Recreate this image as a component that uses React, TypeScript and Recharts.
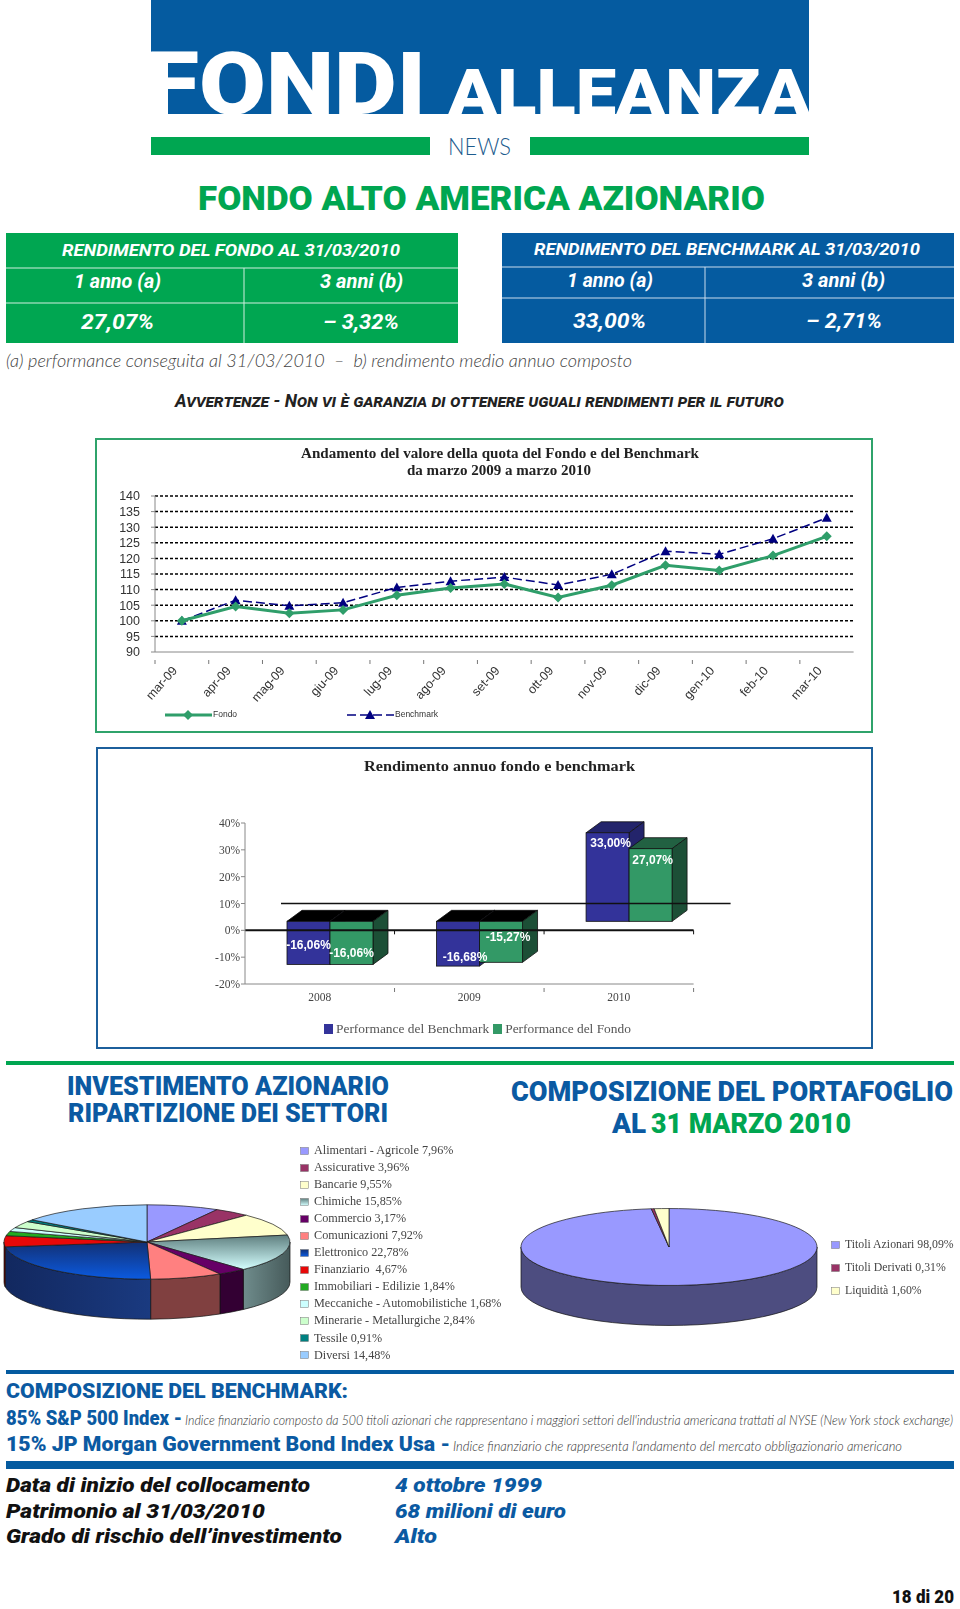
import { Bar, BarChart, CartesianGrid, LabelList, Legend, Line, LineChart, Pie, PieChart, ReferenceLine, XAxis, YAxis } from "recharts";

// --- line chart data
const months = ["mar-09", "apr-09", "mag-09", "giu-09", "lug-09", "ago-09", "set-09", "ott-09", "nov-09", "dic-09", "gen-10", "feb-10", "mar-10"];
const fondoQuota = [100, 104.6, 102.4, 103.5, 108.2, 110.5, 111.8, 107.5, 111.4, 117.8, 116.1, 120.9, 127.07];
const benchmarkQuota = [100, 106.6, 104.8, 105.8, 110.7, 112.7, 114, 111.5, 114.9, 122.3, 121.3, 126.3, 133];
const quotaTicks = [90, 95, 100, 105, 110, 115, 120, 125, 130, 135, 140];
const quotaGrid = [95, 100, 105, 110, 115, 120, 125, 130, 135, 140];

// --- bar chart data
const years = ["2008", "2009", "2010"];
const benchmarkYear = [-16.06, -16.68, 33];
const fondoYear = [-16.06, -15.27, 27.07];
const yearTicks = [-20, -10, 0, 10, 20, 30, 40];

// --- pie data
const sectorNames = ["Alimentari - Agricole", "Assicurative", "Bancarie", "Chimiche", "Commercio", "Comunicazioni", "Elettronico", "Finanziario ", "Immobiliari - Edilizie", "Meccaniche - Automobilistiche", "Minerarie - Metallurgiche", "Tessile", "Diversi"];
const sectorValues = [7.96, 3.96, 9.55, 15.85, 3.17, 7.92, 22.78, 4.67, 1.84, 1.68, 2.84, 0.91, 14.48];
const sectorFills = ["#9999ff", "#993366", "#ffffcc", "url(#chimicheTop)", "#660066", "#ff8080", "url(#elettronicoTop)", "#e80808", "#22aa22", "#ccffff", "#ccffcc", "#008080", "#99ccff"];
const sectorSides = ["#4d4d80", "#4d1a33", "#808066", "url(#chimicheSide)", "#330033", "#804040", "url(#elettronicoSide)", "#740404", "#115511", "#668080", "#668066", "#004040", "#4d6680"];

const assetNames = ["Titoli Azionari", "Titoli Derivati", "Liquidità"];
const assetValues = [98.09, 0.31, 1.6];
const assetFills = ["#9999ff", "#993366", "#ffffcc"];
const assetSides = ["#4d4d80", "#4d1a33", "#808066"];

const comma = (v: number) => v.toFixed(2).replace(".", ",");

const quotaRows = months.map((m, i) => ({ month: m, Fondo: fondoQuota[i], Benchmark: benchmarkQuota[i] }));
const yearRows = years.map((y, i) => ({ year: y, benchmark: benchmarkYear[i], fondo: fondoYear[i] }));
const sectorRows = sectorNames.map((n, i) => ({ name: `${n} ${comma(sectorValues[i])}%`, value: sectorValues[i], fill: sectorFills[i], side: sectorSides[i] }));
const assetRows = assetNames.map((n, i) => ({ name: `${n} ${comma(assetValues[i])}%`, value: assetValues[i], fill: assetFills[i], side: assetSides[i] }));

const BLUE = "#0b5aa2";
const GREEN = "#00a651";
const SERIF = "'Liberation Serif', serif";
const SANS = "'Liberation Sans', sans-serif";
const HEAD = "Roboto, sans-serif";
const LIGHT = "Lato, sans-serif";

// page text: every string is fitted to the width it has in the reference
type TextProps = { x: number; end: number; y: number; size: number; fill?: string; weight?: number; italic?: boolean; font?: string; caps?: boolean; children: any };
function Fit({ x, end, y, size, fill = "#fff", weight = 700, italic, font = HEAD, caps, children }: TextProps) {
  return (
    <text x={x} y={y} textLength={end - x} lengthAdjust="spacingAndGlyphs" fontSize={size} fill={fill} fontWeight={weight} fontStyle={italic ? "italic" : "normal"} fontFamily={font} style={{ whiteSpace: "pre", fontVariant: caps ? "small-caps" : "normal" }}>
      {children}
    </text>
  );
}

function PageArt() {
  return (
    <svg width={960} height={1609} style={{ position: "absolute", left: 0, top: 0 }}>
      <defs>
        <linearGradient id="chimicheTop" x1="0" y1="0" x2="0" y2="1">
          <stop offset="0" stopColor="#5f7f7f" />
          <stop offset="1" stopColor="#d4ffff" />
        </linearGradient>
        <linearGradient id="chimicheSide" x1="0" y1="0" x2="1" y2="0">
          <stop offset="0" stopColor="#6f8c8c" />
          <stop offset="1" stopColor="#465a5a" />
        </linearGradient>
        <linearGradient id="elettronicoTop" x1="0" y1="0" x2="0" y2="1">
          <stop offset="0" stopColor="#123074" />
          <stop offset="1" stopColor="#0b5ae0" />
        </linearGradient>
        <linearGradient id="elettronicoSide" x1="0" y1="0" x2="1" y2="0">
          <stop offset="0" stopColor="#12285f" />
          <stop offset="1" stopColor="#1a3a80" />
        </linearGradient>
      </defs>
      {/* masthead */}
      <rect x={151} y={0} width={658} height={114} fill="#055ba0" />
      <rect x={151} y={52} width={17} height={62} fill="#fff" />
      <Fit x={146} end={426} y={114} size={88} weight={900}>FONDI</Fit>
      <Fit x={448} end={810} y={115} size={64} weight={900}>ALLEANZA</Fit>
      <rect x={151} y={137} width={279} height={18} fill={GREEN} />
      <rect x={530} y={137} width={279} height={18} fill={GREEN} />
      <Fit x={448} end={511} y={155} size={24} fill="#1d5c8e" weight={300} font={LIGHT}>NEWS</Fit>
      <Fit x={198} end={765} y={210} size={33} fill={GREEN} weight={900}>FONDO ALTO AMERICA AZIONARIO</Fit>

      {/* result tables */}
      <rect x={6} y={233} width={452} height={110} fill={GREEN} />
      <rect x={6} y={267.5} width={452} height={1} fill="#cfeee0" />
      <rect x={6} y={302.5} width={452} height={1} fill="#cfeee0" />
      <rect x={243.5} y={268} width={1} height={75} fill="#cfeee0" />
      <Fit x={62} end={400} y={256} size={17} italic>RENDIMENTO DEL FONDO AL 31/03/2010</Fit>
      <Fit x={74} end={161} y={288} size={20} italic>1 anno (a)</Fit>
      <Fit x={320} end={403} y={288} size={20} italic>3 anni (b)</Fit>
      <Fit x={81} end={154} y={329} size={21} italic>27,07%</Fit>
      <Fit x={323} end={399} y={329} size={21} italic>– 3,32%</Fit>

      <rect x={502} y={233} width={452} height={110} fill="#055ba0" />
      <rect x={502} y={266.5} width={452} height={1} fill="#c9dcec" />
      <rect x={502} y={297.5} width={452} height={1} fill="#c9dcec" />
      <rect x={704.5} y={267} width={1} height={76} fill="#c9dcec" />
      <Fit x={534} end={920} y={255} size={17} italic>RENDIMENTO DEL BENCHMARK AL 31/03/2010</Fit>
      <Fit x={567} end={653} y={287} size={20} italic>1 anno (a)</Fit>
      <Fit x={802} end={885} y={287} size={20} italic>3 anni (b)</Fit>
      <Fit x={573} end={646} y={328} size={21} italic>33,00%</Fit>
      <Fit x={806} end={882} y={328} size={21} italic>– 2,71%</Fit>

      <Fit x={6} end={632} y={367} size={18} fill="#444" weight={300} italic font={LIGHT}>{"(a) performance conseguita al 31/03/2010  –  b) rendimento medio annuo composto"}</Fit>
      <Fit x={175} end={784} y={407} size={18} fill="#222" italic caps>Avvertenze - Non vi è garanzia di ottenere uguali rendimenti per il futuro</Fit>

      {/* section heads */}
      <rect x={6} y={1061} width={948} height={4} fill={GREEN} />
      <Fit x={67} end={389} y={1095} size={26} fill={BLUE} weight={900}>INVESTIMENTO AZIONARIO</Fit>
      <Fit x={68} end={388} y={1122} size={26} fill={BLUE} weight={900}>RIPARTIZIONE DEI SETTORI</Fit>
      <Fit x={511} end={953} y={1101} size={28} fill={BLUE} weight={900}>COMPOSIZIONE DEL PORTAFOGLIO</Fit>
      <Fit x={612} end={646} y={1133} size={28} fill={BLUE} weight={900}>AL</Fit>
      <Fit x={651} end={851} y={1133} size={28} fill={GREEN} weight={900}>31 MARZO 2010</Fit>

      {/* benchmark notes */}
      <rect x={6} y={1370} width={948} height={4} fill="#055ba0" />
      <Fit x={6} end={348} y={1398} size={20} fill={BLUE} weight={900}>COMPOSIZIONE DEL BENCHMARK:</Fit>
      <Fit x={6} end={182} y={1425} size={20} fill={BLUE} weight={900}>85% S&amp;P 500 Index -</Fit>
      <Fit x={185} end={953} y={1425} size={14} fill="#333" weight={300} italic font={LIGHT}>Indice finanziario composto da 500 titoli azionari che rappresentano i maggiori settori dell'industria americana trattati al NYSE (New York stock exchange)</Fit>
      <Fit x={6} end={450} y={1451} size={20} fill={BLUE} weight={900}>15% JP Morgan Government Bond Index Usa -</Fit>
      <Fit x={453} end={902} y={1451} size={14} fill="#333" weight={300} italic font={LIGHT}>Indice finanziario che rappresenta l'andamento del mercato obbligazionario americano</Fit>
      <rect x={6} y={1461} width={948} height={8} fill="#055ba0" />

      <Fit x={6} end={310} y={1492} size={20} fill="#111" weight={900} italic>Data di inizio del collocamento</Fit>
      <Fit x={395} end={542} y={1492} size={20} fill={BLUE} weight={900} italic>4 ottobre 1999</Fit>
      <Fit x={6} end={265} y={1518} size={20} fill="#111" weight={900} italic>Patrimonio al 31/03/2010</Fit>
      <Fit x={395} end={566} y={1518} size={20} fill={BLUE} weight={900} italic>68 milioni di euro</Fit>
      <Fit x={6} end={342} y={1543} size={20} fill="#111" weight={900} italic>Grado di rischio dell’investimento</Fit>
      <Fit x={395} end={437} y={1543} size={20} fill={BLUE} weight={900} italic>Alto</Fit>
      <Fit x={892} end={954} y={1603} size={18} fill="#111" weight={900}>18 di 20</Fit>
    </svg>
  );
}

// --- line chart parts
const LINE_PLOT_W = 698.6;

function MonthTick({ x, y, payload }: any) {
  const edge = x - LINE_PLOT_W / months.length / 2;
  return (
    <g>
      <line x1={edge} x2={edge} y1={y} y2={y + 4} stroke="#777" />
      <text transform={`translate(${x - 4},${y + 11}) rotate(-48)`} textAnchor="end" fontFamily={SANS} fontSize={12.5} fill="#333">
        {payload.value}
      </text>
    </g>
  );
}

function Diamond({ cx, cy, fill }: any) {
  return <polygon points={`${cx},${cy - 5} ${cx + 5},${cy} ${cx},${cy + 5} ${cx - 5},${cy}`} fill={fill} />;
}

function Triangle({ cx, cy, fill }: any) {
  return <polygon points={`${cx},${cy - 5} ${cx + 5},${cy + 4} ${cx - 5},${cy + 4}`} fill={fill} />;
}

function QuotaLegend() {
  return (
    <div style={{ position: "relative", width: 300, height: 12, fontFamily: SANS, fontSize: 8.5, color: "#333" }}>
      <svg width={60} height={12} style={{ position: "absolute", left: 0, top: 0 }}>
        <line x1={0} x2={47} y1={6} y2={6} stroke="#2f9e6a" strokeWidth={3} />
        <Diamond cx={23} cy={6} fill="#2f9e6a" />
      </svg>
      <span style={{ position: "absolute", left: 48, top: 0 }}>Fondo</span>
      <svg width={60} height={12} style={{ position: "absolute", left: 182, top: 0 }}>
        <line x1={0} x2={47} y1={6} y2={6} stroke="#000080" strokeWidth={1.5} strokeDasharray="9 4" />
        <Triangle cx={23} cy={6} fill="#000080" />
      </svg>
      <span style={{ position: "absolute", left: 230, top: 0 }}>Benchmark</span>
    </div>
  );
}

// --- bar chart parts
const BAR_DX = 10;
const BAR_DY = -9;
const DEPTH_X = 15;
const DEPTH_Y = 11;
const YEAR_PLOT_W = 448.6;

function Box3D({ x, y, width, height, value, fill, side, top }: any) {
  const v = Array.isArray(value) ? value[1] : value;
  const y0 = Math.min(y, y + height) + BAR_DY;
  const y1 = Math.max(y, y + height) + BAR_DY;
  const x0 = x + BAR_DX;
  const x1 = x0 + width;
  return (
    <g stroke="#111" strokeWidth={0.8}>
      <polygon points={`${x0},${y0} ${x0 + DEPTH_X},${y0 - DEPTH_Y} ${x1 + DEPTH_X},${y0 - DEPTH_Y} ${x1},${y0}`} fill={v < 0 ? "#000" : top} />
      <polygon points={`${x1},${y0} ${x1 + DEPTH_X},${y0 - DEPTH_Y} ${x1 + DEPTH_X},${y1 - DEPTH_Y} ${x1},${y1}`} fill={side} />
      <rect x={x0} y={y0} width={width} height={y1 - y0} fill={fill} />
    </g>
  );
}

const labelNudgeBenchmark = [[0, -20], [7, -9], [3, 10]];
const labelNudgeFondo = [[0, -12], [7, -26], [2, 11]];

function barLabel(nudge: number[][]) {
  return ({ x, y, width, height, value, index }: any) => {
    const tip = (value < 0 ? Math.max(y, y + height) : Math.min(y, y + height)) + BAR_DY;
    return (
      <text x={x + width / 2 + BAR_DX + nudge[index][0]} y={tip + nudge[index][1]} dy="0.35em" textAnchor="middle" fontFamily={SANS} fontSize={12} fontWeight={700} fill="#fff">
        {comma(value)}%
      </text>
    );
  };
}

function YearTick({ x, y, payload }: any) {
  const edge = x + YEAR_PLOT_W / years.length / 2;
  return (
    <g>
      <line x1={edge} x2={edge} y1={y} y2={y - 4} stroke="#777" />
      <text x={x} y={y + 17} dy={-8} textAnchor="middle" fontFamily={SERIF} fontSize={11.5} fill="#444">
        {payload.value}
      </text>
    </g>
  );
}

function ZeroLine({ x1, x2, y1 }: any) {
  const band = (x2 - x1) / years.length;
  return (
    <g stroke="#111">
      <line x1={x1} x2={x2} y1={y1} y2={y1} strokeWidth={2} />
      {[1, 2, 3].map((i) => (
        <line key={i} x1={x1 + band * i} x2={x1 + band * i} y1={y1} y2={y1 + 4} strokeWidth={1} />
      ))}
    </g>
  );
}

function WallLine({ x1, x2, y1 }: any) {
  return <line x1={x1 + 36} x2={x2 + 37} y1={y1} y2={y1} stroke="#111" strokeWidth={1.4} />;
}

function YearLegend() {
  const item = (color: string, text: string) => (
    <span style={{ display: "inline-flex", alignItems: "center", marginRight: 4 }}>
      <span style={{ width: 9, height: 10, background: color, marginRight: 3 }} />
      {text}
    </span>
  );
  return (
    <div style={{ whiteSpace: "nowrap", fontFamily: SERIF, fontSize: 13.4, color: "#555" }}>
      {item("#33339a", "Performance del Benchmark")}
      {item("#339966", "Performance del Fondo")}
    </div>
  );
}

// --- pseudo 3D pies: the sectors come from Pie, the ellipse is applied here
const TILT = 0.26;
const RAD = Math.PI / 180;

function rim(cx: number, cy: number, r: number, deg: number) {
  return `${cx + r * Math.cos(deg * RAD)} ${cy - r * TILT * Math.sin(deg * RAD)}`;
}

function TopFace({ cx, cy, outerRadius: r, startAngle: s, endAngle: e, fill }: any) {
  const large = s - e > 180 ? 1 : 0;
  return <path d={`M${cx} ${cy} L${rim(cx, cy, r, s)} A${r} ${r * TILT} 0 ${large} 1 ${rim(cx, cy, r, e)} Z`} fill={fill} stroke="#1a1a1a" strokeWidth={0.7} />;
}

function sideFace(depth: number) {
  return ({ cx, cy, outerRadius: r, startAngle: s, endAngle: e, payload, side }: any) => {
    const a1 = Math.min(s, 0);
    const a2 = Math.max(e, -180);
    if (a1 <= a2) return <g />;
    const color = side ?? payload?.side;
    return (
      <path
        d={`M${rim(cx, cy, r, a1)} A${r} ${r * TILT} 0 0 1 ${rim(cx, cy, r, a2)} L${rim(cx, cy + depth, r, a2)} A${r} ${r * TILT} 0 0 0 ${rim(cx, cy + depth, r, a1)} Z`}
        fill={color}
        stroke="#111"
        strokeWidth={0.7}
      />
    );
  };
}

function PieLegend({ rows, step, size }: any) {
  return (
    <div style={{ fontFamily: SERIF, fontSize: size, color: "#444", whiteSpace: "pre" }}>
      {rows.map((p: any) => (
        <div key={p.name} style={{ height: step, display: "flex", alignItems: "center" }}>
          <svg width={12} height={10} style={{ marginRight: 2, flex: "none" }}>
            <rect x={0.5} y={1.5} width={8} height={7} fill={p.fill} stroke="#777" strokeWidth={0.5} />
          </svg>
          {p.name}
        </div>
      ))}
    </div>
  );
}

function Pie3D({ rows, left, top, width, height, cx, cy, radius, legendStyle, step, size }: any) {
  const SideFace = sideFace(40);
  return (
    <div style={{ position: "absolute", left, top }}>
      <PieChart width={width} height={height} margin={{ top: 0, right: 0, bottom: 0, left: 0 }}>
        <Pie data={rows} dataKey="value" nameKey="name" cx={cx} cy={cy} outerRadius={radius} startAngle={90} endAngle={-270} legendType="none" isAnimationActive={false} shape={SideFace} inactiveShape={SideFace} activeShape={SideFace} />
        <Pie data={rows} dataKey="value" nameKey="name" cx={cx} cy={cy} outerRadius={radius} startAngle={90} endAngle={-270} isAnimationActive={false} shape={TopFace} inactiveShape={TopFace} activeShape={TopFace} />
        <Legend layout="horizontal" verticalAlign="middle" align="center" wrapperStyle={legendStyle} content={() => <PieLegend rows={rows} step={step} size={size} />} />
      </PieChart>
    </div>
  );
}

export default function App() {
  return (
    <div style={{ position: "absolute", left: 0, top: 0, width: 960, height: 1609, background: "#fff", overflow: "hidden" }}>
      <PageArt />
      <div style={{ position: "absolute", left: 0, top: 0, width: 960, height: 1609, filter: "blur(0.45px)" }}>
        {/* frames and chart titles */}
        <div style={{ position: "absolute", left: 95, top: 438, width: 774, height: 291, border: "2px solid #2fa36b" }} />
        <div style={{ position: "absolute", left: 96, top: 747, width: 773, height: 298, border: "2px solid #1c5f9c" }} />
        <svg width={960} height={1100} style={{ position: "absolute", left: 0, top: 0 }}>
          <Fit x={301} end={699} y={458} size={14.5} fill="#222" font={SERIF}>Andamento del valore della quota del Fondo e del Benchmark</Fit>
          <Fit x={407} end={591} y={475} size={14.5} fill="#222" font={SERIF}>da marzo 2009 a marzo 2010</Fit>
          <Fit x={364} end={635} y={771} size={14.5} fill="#222" font={SERIF}>Rendimento annuo fondo e benchmark</Fit>
        </svg>

        <div style={{ position: "absolute", left: 95, top: 438 }}>
          <LineChart width={778} height={294} data={quotaRows} margin={{ top: 58, right: 19.4, bottom: 20, left: 20 }}>
            <CartesianGrid vertical={false} horizontalValues={quotaGrid} stroke="#000" strokeWidth={1.5} strokeDasharray="3 2" />
            <XAxis dataKey="month" scale="band" interval={0} height={60} stroke="#888" tickLine={false} tick={<MonthTick />} />
            <YAxis width={40} domain={[90, 140]} ticks={quotaTicks} interval={0} stroke="#888" tickSize={4} tickMargin={11} tick={{ fontFamily: SANS, fontSize: 12.5, fill: "#333" }} />
            <Line dataKey="Benchmark" stroke="#000080" strokeWidth={1.5} strokeDasharray="9 4" dot={<Triangle fill="#000080" />} isAnimationActive={false} />
            <Line dataKey="Fondo" stroke="#2f9e6a" strokeWidth={3} dot={<Diamond fill="#2f9e6a" />} isAnimationActive={false} />
            <Legend layout="horizontal" verticalAlign="middle" align="center" wrapperStyle={{ left: 70, top: 271, width: 300 }} content={() => <QuotaLegend />} />
          </LineChart>
        </div>

        <div style={{ position: "absolute", left: 96, top: 747 }}>
          <BarChart width={777} height={300} data={yearRows} barSize={43} barGap={0} margin={{ top: 76, right: 179.4, bottom: 33, left: 104 }}>
            <XAxis dataKey="year" height={30} stroke="#888" tickLine={false} tick={<YearTick />} />
            <YAxis width={45} domain={[-20, 40]} ticks={yearTicks} interval={0} stroke="#888" tickSize={4} tickMargin={1} tickFormatter={(v: number) => `${v}%`} tick={{ fontFamily: SERIF, fontSize: 11.5, fill: "#444" }} />
            <ReferenceLine y={10} shape={<WallLine />} />
            <ReferenceLine y={0} shape={<ZeroLine />} />
            <Bar dataKey="benchmark" fill="#33339a" isAnimationActive={false} shape={<Box3D side="#23246b" top="#23246b" />}>
              <LabelList dataKey="benchmark" content={barLabel(labelNudgeBenchmark)} />
            </Bar>
            <Bar dataKey="fondo" fill="#339966" isAnimationActive={false} shape={<Box3D side="#1c4f36" top="#226142" />}>
              <LabelList dataKey="fondo" content={barLabel(labelNudgeFondo)} />
            </Bar>
            <Legend layout="horizontal" verticalAlign="middle" align="center" wrapperStyle={{ left: 228, top: 274, width: 320 }} content={() => <YearLegend />} />
          </BarChart>
        </div>

        <Pie3D rows={sectorRows} left={0} top={1130} width={520} height={240} cx={147} cy={112} radius={143} step={17.06} size={12.2} legendStyle={{ left: 300, top: 12, width: 215 }} />
        <Pie3D rows={assetRows} left={500} top={1190} width={460} height={170} cx={169} cy={57} radius={148} step={23} size={11.8} legendStyle={{ left: 331, top: 43, width: 125 }} />
      </div>
    </div>
  );
}
